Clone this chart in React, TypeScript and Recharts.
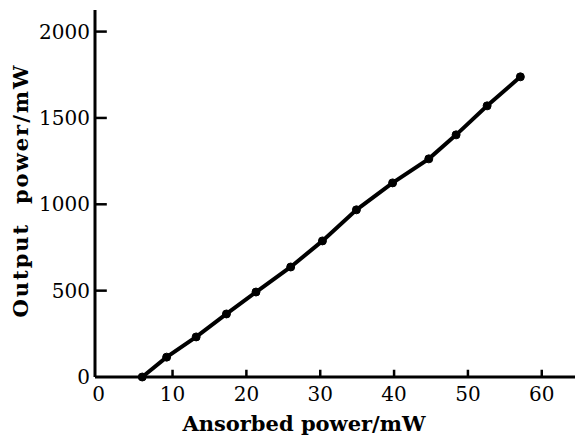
import React from 'react'
import { LineChart, Line, XAxis, YAxis, Label, ReferenceLine } from 'recharts'

// absorbed power (mW) and output power (mW)
const absorbed = [5.9, 9.2, 13.2, 17.3, 21.3, 26.0, 30.3, 34.9, 39.8, 44.7, 48.4, 52.6, 57.1]
const output = [0, 115, 232, 365, 492, 637, 788, 968, 1124, 1263, 1402, 1570, 1738]
const xTicks = [0, 10, 20, 30, 40, 50, 60]
const yTicks = [0, 500, 1000, 1500, 2000]

const data = absorbed.map((x, i) => ({ x, y: output[i] }))

const xDomain = [-0.5, 64.5]
const yDomain = [0, 2125]
// inward tick marks, length given in axis units (about 7px and 12px)
const xTickLen = 42
const yTickLen = 1.6

const serif = '"DejaVu Serif", "Liberation Serif", serif'

const XTitle = ({ viewBox }: any) => (
  <text
    x={viewBox.x + viewBox.width / 2 - 31}
    y={viewBox.y + viewBox.height - 7}
    textAnchor="middle"
    fontFamily={serif}
    fontSize={21}
    fontWeight="bold"
    fill="#000"
  >
    Ansorbed power/mW
  </text>
)

const YTitle = ({ viewBox }: any) => {
  const cx = 20
  const cy = viewBox.y + viewBox.height / 2 - 3
  return (
    <text
      x={cx}
      y={cy}
      transform={`rotate(-90 ${cx} ${cy})`}
      textAnchor="middle"
      dominantBaseline="central"
      fontFamily={serif}
      fontSize={21}
      fontWeight="bold"
      letterSpacing={2}
      fill="#000"
    >
      {'Output\u00a0\u00a0power/mW'}
    </text>
  )
}

const tickStyle = { fill: '#000', fontFamily: serif, fontSize: 20 }

export default function App() {
  return (
    <div style={{ position: 'absolute', left: 0, top: 0, background: '#fff' }}>
      <LineChart
        width={577}
        height={438}
        data={data}
        margin={{ top: 10, right: 2, left: 0, bottom: 0 }}
      >
        <XAxis
          type="number"
          dataKey="x"
          domain={xDomain}
          ticks={xTicks}
          height={61}
          axisLine={{ stroke: '#000', strokeWidth: 3 }}
          tickLine={false}
          tickSize={0}
          tickMargin={10}
          tick={tickStyle}
        >
          <Label content={<XTitle />} />
        </XAxis>
        <YAxis
          type="number"
          dataKey="y"
          domain={yDomain}
          ticks={yTicks}
          width={95}
          axisLine={{ stroke: '#000', strokeWidth: 3 }}
          tickLine={false}
          tickSize={0}
          tickMargin={5}
          tick={tickStyle}
        >
          <Label content={<YTitle />} />
        </YAxis>
        {xTicks.slice(1).map((t) => (
          <ReferenceLine
            key={`xt${t}`}
            segment={[{ x: t, y: 0 }, { x: t, y: xTickLen }]}
            stroke="#000"
            strokeWidth={2.5}
            ifOverflow="visible"
          />
        ))}
        {yTicks.slice(1).map((t) => (
          <ReferenceLine
            key={`yt${t}`}
            segment={[{ x: xDomain[0], y: t }, { x: xDomain[0] + yTickLen, y: t }]}
            stroke="#000"
            strokeWidth={2.5}
            ifOverflow="visible"
          />
        ))}
        <Line
          type="linear"
          dataKey="y"
          stroke="#000"
          strokeWidth={4}
          dot={{ r: 4, fill: '#000', stroke: '#000', strokeWidth: 1 }}
          isAnimationActive={false}
        />
      </LineChart>
    </div>
  )
}
